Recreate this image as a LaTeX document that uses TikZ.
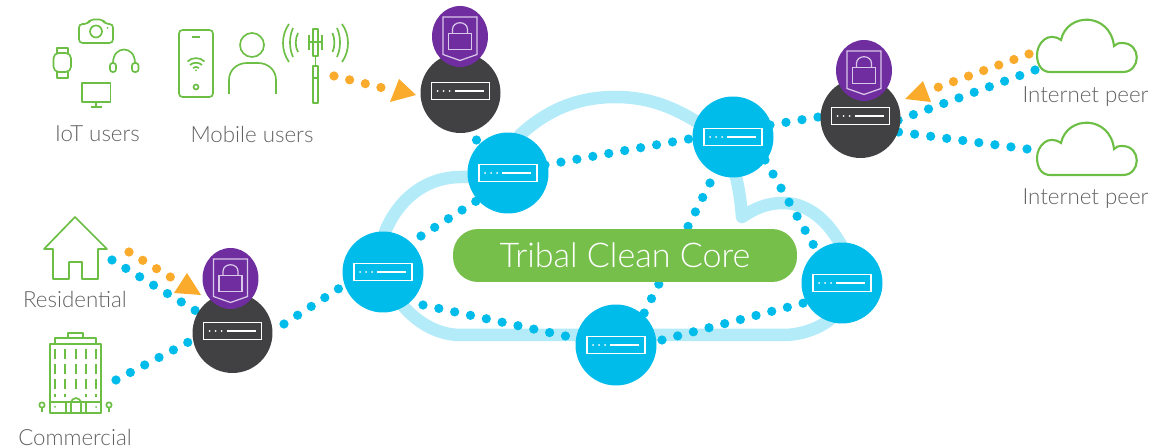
\documentclass[tikz,border=0pt]{standalone}
\usepackage{fontspec}
\setmainfont{Lato}[UprightFont={* Light}]
\usetikzlibrary{backgrounds}
\usetikzlibrary{shapes.geometric}
\definecolor{leaf}{HTML}{6CBE45}
\definecolor{pill}{HTML}{76BF4B}
\definecolor{sky}{HTML}{00BCEB}
\definecolor{pale}{HTML}{B3EBF9}
\definecolor{peach}{HTML}{FBAB2C}
\definecolor{coal}{HTML}{414042}
\definecolor{grape}{HTML}{6F2DA0}
\definecolor{lilac}{HTML}{D9C8E8}
\definecolor{label}{HTML}{626262}
\newcommand{\routerglyph}[1]{
  \draw[white,line width=0.7pt] ([shift={(-29,#1-8.5)}]path picture bounding box.center) rectangle ([shift={(29,#1+8.5)}]path picture bounding box.center);
  \fill[white] ([shift={(-23,#1)}]path picture bounding box.center) circle (1);
  \fill[white] ([shift={(-17,#1)}]path picture bounding box.center) circle (1);
  \fill[white] ([shift={(-11,#1)}]path picture bounding box.center) circle (1);
  \draw[white,line width=0.7pt] ([shift={(-6,#1)}]path picture bounding box.center) -- ([shift={(23,#1)}]path picture bounding box.center);
}
\newcommand{\shieldglyph}{
  \draw[lilac,line width=0.7pt] ([shift={(-17,-19.5)}]path picture bounding box.center) -- ([shift={(17,-19.5)}]path picture bounding box.center) -- ([shift={(17,18)}]path picture bounding box.center) -- ([shift={(0,24)}]path picture bounding box.center) -- ([shift={(-17,18)}]path picture bounding box.center) -- cycle;
  \draw[lilac,line width=0.7pt] ([shift={(-11.5,-3)}]path picture bounding box.center) rectangle ([shift={(11.5,13)}]path picture bounding box.center);
  \draw[lilac,line width=0.7pt] ([shift={(-7.5,-3)}]path picture bounding box.center) -- ([shift={(-7.5,-7)}]path picture bounding box.center) .. controls ([shift={(-7.5,-16)}]path picture bounding box.center) and ([shift={(7.5,-16)}]path picture bounding box.center) .. ([shift={(7.5,-7)}]path picture bounding box.center) -- ([shift={(7.5,-3)}]path picture bounding box.center);
}
\tikzset{
  corenode/.style={circle,fill=sky,inner sep=0pt,minimum size=1.62cm,path picture={\routerglyph{0}}},
  edgenode/.style={circle,fill=coal,inner sep=0pt,minimum size=1.6cm,path picture={\routerglyph{-2}}},
  locknode/.style={ellipse,fill=grape,inner sep=0pt,minimum width=1.12cm,minimum height=1.22cm,path picture={\shieldglyph}},
  bluelink/.style={sky,line width=0.185cm,line cap=round,dash pattern=on 0pt off 0.324cm},
  peachlink/.style={peach,line width=0.185cm,line cap=round,dash pattern=on 0pt off 0.322cm},
  icon/.style={leaf,line width=0.95pt,line join=round},
  usertext/.style={text=label,font=\fontsize{12.7}{14}\selectfont,inner sep=0pt},
}
\begin{document}
\begin{tikzpicture}[x=0.02cm,y=-0.02cm]
  \useasboundingbox (0,0) rectangle (1175,448);
%Routers
  \node[corenode] (coreA) at (383,272) {};
  \node[corenode] (coreB) at (508,173) {};
  \node[corenode] (coreC) at (733,137) {};
  \node[corenode] (coreD) at (842,283) {};
  \node[corenode] (coreE) at (616,345) {};
  \node[edgenode] (edgeL) at (232.5,333) {};
  \node[edgenode] (edgeT) at (460.5,93) {};
  \node[edgenode] (edgeR) at (860.5,118) {};
  \node[locknode] (lockL) at (230.5,278.5) {};
  \node[locknode] (lockT) at (460,36.5) {};
  \node[locknode] (lockR) at (864,70.5) {};
  \node[fill=pill,rounded corners=0.5cm,minimum width=6.88cm,minimum height=1.06cm,inner sep=0pt,text=white,font=\fontsize{19.4}{22}\selectfont] (core) at (625,255.5) {Tribal Clean Core};
%Free ends
  \coordinate (resiTail) at (112,260);
  \coordinate (resiOut) at (129,252);
  \coordinate (resiTip) at (172,278);
  \coordinate (commTail) at (116,380);
  \coordinate (mobileOut) at (334,76);
  \coordinate (mobileTip) at (383,88);
  \coordinate (peerA) at (1035,70);
  \coordinate (peerB) at (1027,149);
  \coordinate (peerOut) at (1029,54);
  \coordinate (peerTip) at (936,88);
%Cloud and links
  \begin{scope}[on background layer]
    \draw[pale,line width=0.25cm,line join=round] (461,335) -- (783,335)
      .. controls (815,335) and (850,315) .. (850,280)
      .. controls (850,265) and (846,253) .. (840,243)
      .. controls (825,217) and (805,203) .. (783,203)
      .. controls (768,203) and (755,208) .. (742,217)
      .. controls (740,190) and (735,170) .. (728,150)
      -- (697,122)
      .. controls (670,105) and (645,97) .. (615,97)
      .. controls (575,97) and (545,112) .. (520,135)
      -- (490,177) -- (461,177)
      .. controls (425,177) and (398,200) .. (385,232)
      -- (390,290) -- (404,307)
      .. controls (420,325) and (440,335) .. (461,335) -- cycle;
    \draw[bluelink] (commTail) -- ([shift={(0,-14)}]edgeL.center);
    \draw[bluelink] (resiTail) -- (edgeL.center);
    \draw[peachlink] (resiOut) -- (resiTip);
    \draw[peachlink] (mobileOut) -- (mobileTip);
    \draw[bluelink] ([shift={(51.5,-9)}]edgeL.center) -- ([shift={(0,-12)}]coreA.center);
    \draw[bluelink] ([shift={(16,47)}]edgeT.center) -- (coreB.center);
    \draw[bluelink] ([shift={(38,-36)}]coreA.center) -- ([shift={(0,8)}]coreB.center);
    \draw[bluelink] ([shift={(37,-8)}]coreB.center) -- ([shift={(0,-6)}]coreC.center);
    \draw[bluelink] ([shift={(37,-12)}]coreC.center) -- ([shift={(0,-8)}]edgeR.center);
    \draw[bluelink] (peerA) -- ([shift={(0,16)}]edgeR.center);
    \draw[bluelink] (peerB) -- ([shift={(0,9)}]edgeR.center);
    \draw[peachlink] (peerOut) -- (peerTip);
    \draw[bluelink] ([shift={(32,23)}]coreC.center) -- ([shift={(0,12)}]coreD.center);
    \draw[bluelink] ([shift={(-23,46)}]coreC.center) -- ([shift={(12,0)}]coreE.center);
    \draw[bluelink] ([shift={(40,33)}]coreA.center) -- ([shift={(0,2)}]coreE.center);
    \draw[bluelink] ([shift={(46,-5)}]coreE.center) -- ([shift={(0,10)}]coreD.center);
  \end{scope}
%Arrow heads
  \fill[peach] (187,273) -- (174,293) -- (201,295) -- cycle;
  \fill[peach] (399,79) -- (390,102) -- (416,95) -- cycle;
  \fill[peach] (923,81) -- (905,99) -- (931,102) -- cycle;
%Labels
  \node[usertext] (iotText) at (97.5,134) {IoT users};
  \node[usertext] (mobileText) at (252,134) {Mobile users};
  \node[usertext] (resiText) at (75,299.5) {Residential};
  \node[usertext] (commText) at (75,437.5) {Commercial};
  \node[usertext] (peerTextA) at (1085.5,96.5) {Internet peer};
  \node[usertext] (peerTextB) at (1085.5,198.5) {Internet peer};
%Camera
  \draw[icon,rounded corners=2pt] (79,24) -- (88,24) -- (90,19.5) -- (103,19.5) -- (105,24) -- (113,24) -- (113,43) -- (79,43) -- cycle;
  \draw[icon] (96,31.5) circle (6);
  \fill[leaf] (107.5,28) circle (1);
%Watch
  \draw[icon,rounded corners=3pt] (53.5,53) rectangle (71,72);
  \draw[icon] (57,53) -- (57,48) -- (68,48) -- (68,53);
  \draw[icon] (57,72) -- (57,78) -- (68,78) -- (68,72);
%Headphones
  \draw[icon] (113,63) .. controls (113,45) and (135,45) .. (135,63);
  \draw[icon,rounded corners=1.5pt] (110,63) rectangle (116,72);
  \draw[icon,rounded corners=1.5pt] (132,63) rectangle (138.5,72);
%Monitor
  \draw[icon] (82,83) rectangle (110.5,102);
  \draw[icon] (96,102) -- (96,107);
  \draw[icon] (91,107) -- (102,107);
%Phone
  \draw[icon,rounded corners=2pt] (179,30) rectangle (213,97);
  \draw[icon] (192,37) -- (200,37);
  \draw[icon] (187.5,61.5) .. controls (192,57) and (200,57) .. (204.5,61.5);
  \draw[icon] (190,65) .. controls (193,62) and (199,62) .. (202,65);
  \draw[icon] (193,68) .. controls (194.5,66.5) and (197.5,66.5) .. (199,68);
  \fill[leaf] (196,70.5) circle (1);
  \draw[icon] (196,87) circle (2.5);
%Person
  \draw[icon] (252,45) circle (12);
  \draw[icon] (229,94) -- (229,80) .. controls (229,70) and (237,63) .. (247,63) -- (258,63) .. controls (268,63) and (276,70) .. (276,80) -- (276,94);
%Tower
  \draw[icon] (313,29) rectangle (318,56);
  \draw[icon] (309,35) -- (309,50);
  \draw[icon] (322,35) -- (322,50);
  \draw[icon] (309,42) -- (322,42);
  \draw[icon] (315.5,56) -- (315.5,66);
  \draw[icon] (313,66) rectangle (318,103);
  \draw[icon] (313,78) -- (318,78);
  \draw[icon] (298,33) .. controls (295,39) and (295,47) .. (298,52);
  \draw[icon] (293,28) .. controls (289,37) and (289,48) .. (293,57);
  \draw[icon] (289,24) .. controls (281,35) and (281,51) .. (289,62);
  \draw[icon] (332.5,33) .. controls (335,39) and (335,47) .. (332.5,52);
  \draw[icon] (337,28) .. controls (341,37) and (341,48) .. (337,57);
  \draw[icon] (342,24) .. controls (350,35) and (350,51) .. (342,62);
%House
  \draw[icon] (75,217) -- (44,249) -- (53,249) -- (53,279) -- (69,279) -- (69,262) -- (82,262) -- (82,279) -- (98,279) -- (98,249) -- (107,249) -- cycle;
%Building
  \draw[icon] (50,344) rectangle (101,413);
  \draw[icon] (55,344) -- (55,338) -- (96,338) -- (96,344);
  \draw[icon] (68,338) -- (68,333) -- (83,333) -- (83,338);
  \draw[icon] (50,402) -- (101,402);
  \draw[icon,dash pattern=on 5.5pt off 3pt] (55,349) -- (55,397);
  \draw[icon,dash pattern=on 5.5pt off 3pt] (65,349) -- (65,397);
  \draw[icon,dash pattern=on 5.5pt off 3pt] (76,349) -- (76,393);
  \draw[icon,dash pattern=on 5.5pt off 3pt] (86,349) -- (86,397);
  \draw[icon,dash pattern=on 5.5pt off 3pt] (96,349) -- (96,397);
  \draw[icon] (71,413) -- (71,404) .. controls (71,396) and (81,396) .. (81,404) -- (81,413);
  \draw[icon] (66,402) -- (66,413);
  \draw[icon] (86,402) -- (86,413);
  \fill[leaf] (55,407) circle (1);
  \fill[leaf] (96,407) circle (1);
  \draw[icon] (42,405) circle (2.7);
  \draw[icon] (42,408) -- (42,412);
  \draw[icon] (109,405) circle (2.7);
  \draw[icon] (109,408) -- (109,412);
%Peer clouds
  \draw[leaf,line width=1.2pt] (1050,72) -- (1123,72) .. controls (1141,72) and (1142,43) .. (1122,43) .. controls (1118,43) and (1116,44) .. (1114,46) .. controls (1110,12) and (1067,12) .. (1061,40) .. controls (1048,31) and (1037,43) .. (1037,55) .. controls (1037,65) and (1042,72) .. (1050,72) -- cycle;
  \draw[leaf,line width=1.2pt] (1050,175) -- (1123,175) .. controls (1141,175) and (1142,146) .. (1122,146) .. controls (1118,146) and (1116,147) .. (1114,149) .. controls (1110,115) and (1067,115) .. (1061,143) .. controls (1048,134) and (1037,146) .. (1037,158) .. controls (1037,168) and (1042,175) .. (1050,175) -- cycle;
\end{tikzpicture}
\end{document}
